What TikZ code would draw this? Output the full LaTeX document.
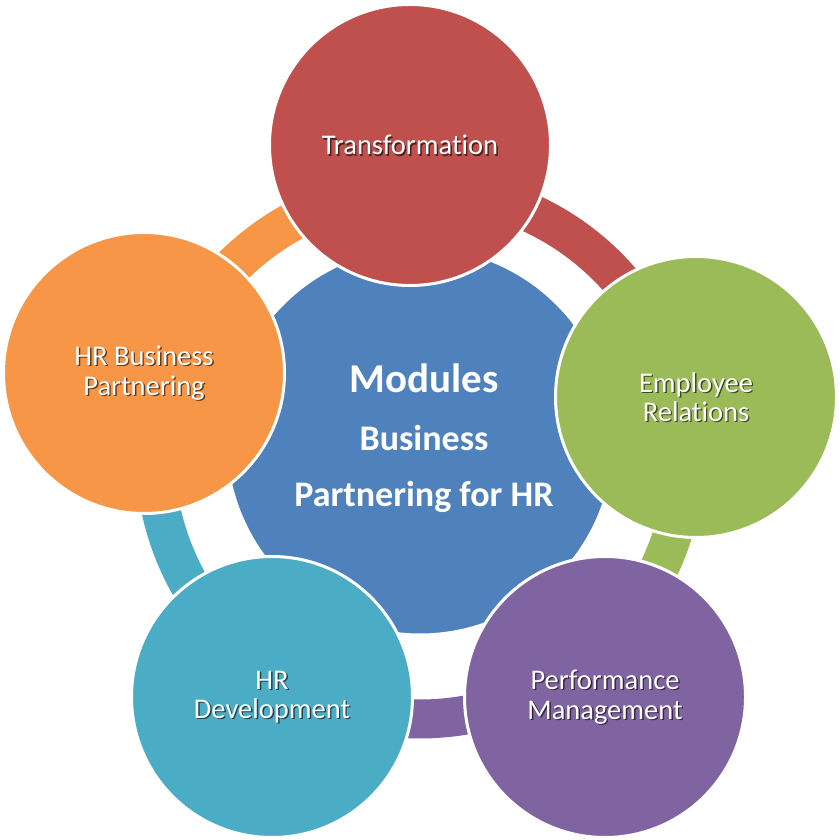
\documentclass[tikz,border=0pt]{standalone}
\usepackage{fontspec}
\setmainfont{Carlito}[Ligatures=NoCommon]
\usetikzlibrary{positioning}
\definecolor{hubblue}{HTML}{4F81BD}
\definecolor{trred}{HTML}{C0504D}
\definecolor{ergreen}{HTML}{9BBB59}
\definecolor{pmpurple}{HTML}{8064A2}
\definecolor{devteal}{HTML}{4BACC6}
\definecolor{bporange}{HTML}{F79646}

\tikzset{
  module/.style={circle, draw=white, line width=3pt, minimum size=281pt, inner sep=0pt},
  band/.style={line width=39pt},
  modtext/.style={text=white, align=center, font=\fontsize{28.5}{29.5}\selectfont},
  hubtext/.style={text=white, anchor=base, font=\bfseries\fontsize{#1}{#1}\selectfont},
}
% white text with a soft dark shadow behind it
\newcommand\modlabel[3]{%
  \node[modtext, text=black, text opacity=.6, xshift=1.4pt, yshift=-1.4pt] at (#2) {#3};
  \node[modtext] (#1) at (#2) {#3};
}

\begin{document}
\begin{tikzpicture}[x=1pt, y=1pt]
  \fill[white] (0,0) rectangle (840,840);
  \useasboundingbox (0,0) rectangle (840,840);

  \coordinate (ring) at (420,386);

  % connecting ring, one piece per module
  \draw[band, trred] ([shift={(91.5:265pt)}]ring) arc[start angle=91.5, end angle=11.6, radius=265pt];
  \draw[band, ergreen] ([shift={(11.6:265pt)}]ring) arc[start angle=11.6, end angle=-52.4, radius=265pt];
  \draw[band, pmpurple] ([shift={(-52.4:265pt)}]ring) arc[start angle=-52.4, end angle=-121, radius=265pt];
  \draw[band, devteal] ([shift={(-121:265pt)}]ring) arc[start angle=-121, end angle=-196.5, radius=265pt];
  \draw[band, bporange] ([shift={(163.5:265pt)}]ring) arc[start angle=163.5, end angle=91.5, radius=265pt];

  % centre
  \node[circle, fill=hubblue, draw=white, line width=3pt, minimum size=388pt, inner sep=0pt] (hub) at (420,399) {};

  % modules
  \node[module, fill=trred] (transf) at (410,695) {};
  \node[module, fill=ergreen] (emprel) at (696,443) {};
  \node[module, fill=pmpurple] (perfman) at (605,143) {};
  \node[module, fill=devteal] (hrdev) at (272,143) {};
  \node[module, fill=bporange] (hrbp) at (144,467) {};

  \node[hubtext=41] (modules) at ([xshift=4pt, yshift=48pt]hub.center) {Modules};
  \node[hubtext=36] (business) at ([xshift=4pt, yshift=-10pt]hub.center) {Business};
  \node[hubtext=36] (partner) at ([xshift=4pt, yshift=-66pt]hub.center) {Partnering for HR};

  \modlabel{transfl}{transf.center}{Transformation}
  \modlabel{emprell}{emprel.center}{Employee\\Relations}
  \modlabel{perfmanl}{perfman.center}{Performance\\Management}
  \modlabel{hrdevl}{hrdev.center}{HR\\Development}
  \modlabel{hrbpl}{hrbp.center}{HR Business\\Partnering}
\end{tikzpicture}
\end{document}
